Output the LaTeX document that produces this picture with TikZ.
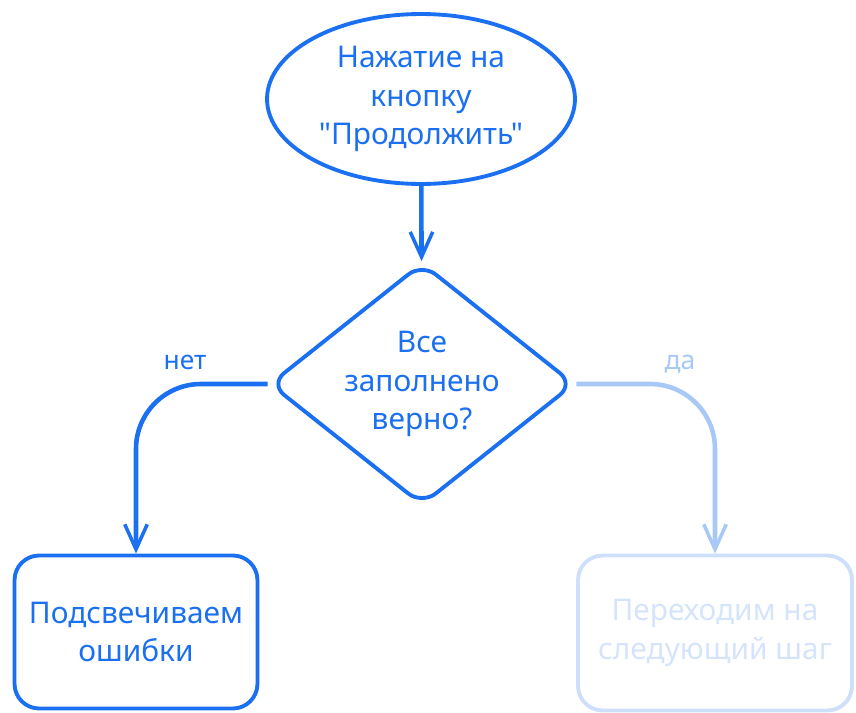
\documentclass[tikz,border=0pt]{standalone}
\usepackage{fontspec}
\setmainfont{Noto Sans}[Ligatures=TeXOff]
\usetikzlibrary{shapes.geometric,arrows.meta}
\definecolor{flowblue}{RGB}{26,112,240}
\definecolor{paleline}{RGB}{168,200,246}
\definecolor{palebox}{RGB}{205,223,251}
\definecolor{paletext}{RGB}{214,228,251}
\tikzset{
  block/.style={draw=flowblue, line width=2.2pt, text=flowblue, align=center,
    font=\fontsize{17}{22}\selectfont},
  flow/.style={line width=2.6pt, -{Straight Barb[length=5mm,width=4.5mm,line width=2pt]}},
  tag/.style={font=\fontsize{15}{18}\selectfont}
}
\begin{document}
\begin{tikzpicture}[x={(0.02cm,0cm)}, y={(0cm,-0.02cm)}]
  \useasboundingbox (0,0) rectangle (856,713);
  % Start
  \node[block, ellipse, minimum width=6.16cm, minimum height=3.4cm, inner sep=0pt]
    (press) at (421,99) {Нажатие на\\кнопку\\"Продолжить"};
  % Decision
  \node[block, diamond, aspect=1.3, rounded corners=10pt, minimum width=6.1cm,
    minimum height=4.85cm, inner sep=0pt] (valid) at (422,384) {Все\\заполнено\\верно?};
  % Outcomes
  \node[block, rounded corners=14pt, minimum width=4.86cm, minimum height=3.06cm]
    (errors) at (136,632) {Подсвечиваем\\ошибки};
  \node[block, draw=palebox, text=paletext, rounded corners=14pt, minimum width=5.48cm,
    minimum height=3.1cm] (next) at (715,633) {Переходим на\\следующий шаг};
  % Connectors
  \draw[flow, flowblue] (press) -- (valid);
  \draw[flow, flowblue, rounded corners=1.3cm] (valid.west) -- (errors.north |- valid.west)
    -- (errors.north);
  \draw[flow, paleline, rounded corners=1.3cm] (valid.east) -- (next.north |- valid.east)
    -- (next.north);
  % Labels
  \node[tag, text=flowblue] (no) at (185,362) {нет};
  \node[tag, text=paleline] (yes) at (680,364) {да};
\end{tikzpicture}
\end{document}
